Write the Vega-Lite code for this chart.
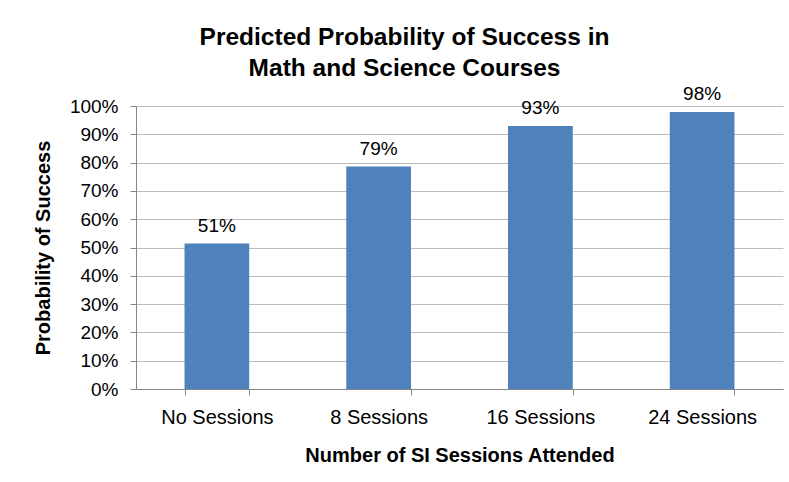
{
  "$schema": "https://vega.github.io/schema/vega-lite/v6.json",
  "width": 647,
  "height": 283,
  "autosize": {"type": "none"},
  "padding": {"left": 136, "top": 106, "right": 6, "bottom": 93},
  "background": "white",
  "title": {
    "text": ["Predicted Probability of Success in", "Math and Science Courses"],
    "font": "Liberation Sans",
    "fontSize": 24.5,
    "fontWeight": "bold",
    "color": "black",
    "lineHeight": 31,
    "anchor": "middle",
    "dx": -55,
    "offset": 3
  },
  "data": {
    "values": [
      {"sessions": "No Sessions", "p": 0.514},
      {"sessions": "8 Sessions", "p": 0.786},
      {"sessions": "16 Sessions", "p": 0.929},
      {"sessions": "24 Sessions", "p": 0.979}
    ]
  },
  "encoding": {
    "x": {
      "field": "sessions",
      "type": "nominal",
      "sort": null,
      "scale": {"paddingInner": 0.6, "paddingOuter": 0.3},
      "axis": {
        "title": "Number of SI Sessions Attended",
        "labelAngle": 0,
        "tickBand": "extent",
        "tickSize": 6,
        "labelPadding": 12,
        "titlePadding": 18,
        "domainColor": "#868686",
        "tickColor": "#868686",
        "labelFontSize": 20,
        "titleFontSize": 20
      }
    },
    "y": {
      "field": "p",
      "type": "quantitative",
      "scale": {"domain": [0, 1]},
      "axis": {
        "title": "Probability of Success",
        "format": ".0%",
        "values": [0, 0.1, 0.2, 0.3, 0.4, 0.5, 0.6, 0.7, 0.8, 0.9, 1],
        "tickSize": 6,
        "labelPadding": 12,
        "titlePadding": 16,
        "domainColor": "#868686",
        "tickColor": "#868686",
        "grid": true,
        "gridColor": "#bcbcbc",
        "labelFontSize": 19,
        "titleFontSize": 20
      }
    }
  },
  "layer": [
    {"mark": {"type": "bar", "color": "#4F81BD"}},
    {
      "mark": {"type": "text", "baseline": "alphabetic", "dy": -12, "fontSize": 19, "font": "Liberation Sans", "color": "black"},
      "encoding": {"text": {"field": "p", "type": "quantitative", "format": ".0%"}}
    }
  ],
  "config": {
    "view": {"stroke": null},
    "axis": {
      "labelFont": "Liberation Sans",
      "titleFont": "Liberation Sans",
      "labelColor": "black",
      "titleColor": "black",
      "titleFontWeight": "bold",
      "labelFontWeight": "normal"
    }
  }
}
